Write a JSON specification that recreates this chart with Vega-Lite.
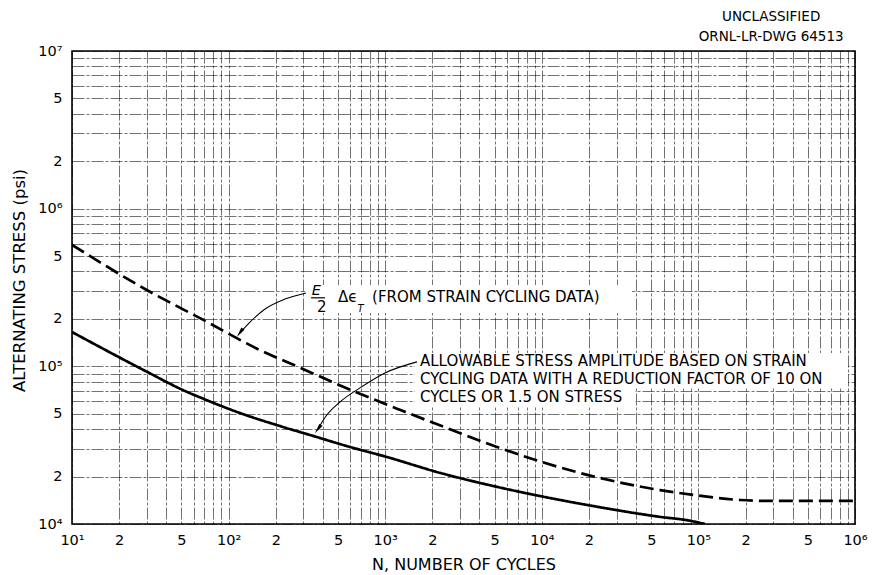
{
  "$schema": "https://vega.github.io/schema/vega-lite/v6.json",
  "width": 783,
  "height": 473,
  "autosize": {"type": "none"},
  "padding": {"left": 72, "top": 51, "right": 19, "bottom": 51},
  "background": "white",
  "config": {
    "view": {"stroke": "black", "strokeWidth": 1.6},
    "font": "DejaVu Sans"
  },
  "title": {
    "text": ["UNCLASSIFIED", "ORNL-LR-DWG 64513"],
    "anchor": "end",
    "align": "center",
    "dx": -96,
    "font": "DejaVu Sans",
    "fontSize": 13.5,
    "fontWeight": "normal",
    "color": "black",
    "lineHeight": 20,
    "offset": 0
  },
  "datasets": {
    "curves": [
      {"series": "strain", "N": 10, "S": 590000},
      {"series": "strain", "N": 30, "S": 305000},
      {"series": "strain", "N": 69, "S": 197000},
      {"series": "strain", "N": 158, "S": 127000},
      {"series": "strain", "N": 286, "S": 98000},
      {"series": "strain", "N": 641, "S": 69000},
      {"series": "strain", "N": 1241, "S": 53000},
      {"series": "strain", "N": 2483, "S": 40600},
      {"series": "strain", "N": 5176, "S": 30800},
      {"series": "strain", "N": 19500, "S": 20500},
      {"series": "strain", "N": 56900, "S": 16400},
      {"series": "strain", "N": 92500, "S": 15300},
      {"series": "strain", "N": 184500, "S": 14200},
      {"series": "strain", "N": 300000, "S": 14000},
      {"series": "strain", "N": 1000000, "S": 14000},
      {"series": "allowable", "N": 10, "S": 165000},
      {"series": "allowable", "N": 30, "S": 92500},
      {"series": "allowable", "N": 51, "S": 70800},
      {"series": "allowable", "N": 72, "S": 61200},
      {"series": "allowable", "N": 118, "S": 50600},
      {"series": "allowable", "N": 213, "S": 41800},
      {"series": "allowable", "N": 346, "S": 36200},
      {"series": "allowable", "N": 596, "S": 30800},
      {"series": "allowable", "N": 1026, "S": 26600},
      {"series": "allowable", "N": 2239, "S": 21100},
      {"series": "allowable", "N": 5176, "S": 17200},
      {"series": "allowable", "N": 19500, "S": 13200},
      {"series": "allowable", "N": 56900, "S": 11100},
      {"series": "allowable", "N": 88000, "S": 10500},
      {"series": "allowable", "N": 110000, "S": 10000}
    ],
    "blank": [
      {"N": 308, "N2": 37700, "S": 328000, "S2": 218000},
      {"N": 1549, "N2": 901000, "S": 121600, "S2": 73000},
      {"N": 1549, "N2": 39400, "S": 73000, "S2": 56000}
    ],
    "arrows": [
      {"arrow": "a", "N": 312, "S": 292000},
      {"arrow": "a", "N": 229, "S": 267000},
      {"arrow": "a", "N": 171, "S": 231000},
      {"arrow": "a", "N": 137, "S": 191000},
      {"arrow": "a", "N": 118, "S": 163000},
      {"arrow": "b", "N": 1596, "S": 106700},
      {"arrow": "b", "N": 997, "S": 90800},
      {"arrow": "b", "N": 690, "S": 73000},
      {"arrow": "b", "N": 514, "S": 59400},
      {"arrow": "b", "N": 419, "S": 48400},
      {"arrow": "b", "N": 372, "S": 40000}
    ],
    "heads": [
      {"arrow": "a", "N": 118, "S": 163000},
      {"arrow": "b", "N": 372, "S": 40000}
    ],
    "bar": [
      {"N": 336, "N2": 413, "S": 272000}
    ],
    "notes": [
      {"N": 367, "S": 238000, "text": "2"},
      {"N": 500, "S": 275000, "text": "Δϵ"},
      {"N": 824, "S": 275000, "text": "(FROM STRAIN CYCLING DATA)"},
      {"N": 1667, "S": 108100, "text": "ALLOWABLE STRESS AMPLITUDE BASED ON STRAIN"},
      {"N": 1667, "S": 83200, "text": "CYCLING DATA WITH A REDUCTION FACTOR OF 10 ON"},
      {"N": 1667, "S": 64000, "text": "CYCLES OR 1.5 ON STRESS"}
    ],
    "italic": [
      {"N": 340, "S": 300000, "text": "E"}
    ],
    "sub": [
      {"N": 665, "S": 231000, "text": "T"}
    ]
  },
  "layer": [
    {
      "data": {"name": "curves"},
      "mark": {"type": "line", "color": "black", "strokeWidth": 2.7, "interpolate": "monotone", "clip": true},
      "encoding": {
        "x": {
          "field": "N", "type": "quantitative",
          "scale": {"type": "log", "domain": [10, 1000000], "nice": false},
          "axis": {
            "values": [10,20,30,40,50,60,70,80,90,100,200,300,400,500,600,700,800,900,1000,2000,3000,4000,5000,6000,7000,8000,9000,10000,20000,30000,40000,50000,60000,70000,80000,90000,100000,200000,300000,400000,500000,600000,700000,800000,900000,1000000],
            "labelExpr": "datum.value==10?'10¹':datum.value==100?'10²':datum.value==1000?'10³':datum.value==10000?'10⁴':datum.value==100000?'10⁵':datum.value==1000000?'10⁶':indexof([20,200,2000,20000,200000],datum.value)>=0?'2':indexof([50,500,5000,50000,500000],datum.value)>=0?'5':''",
            "title": "N, NUMBER OF CYCLES",
            "grid": true, "ticks": false, "domain": false,
            "labelOverlap": false, "labelFlush": false,
            "labelPadding": 9, "labelFontSize": 14.5, "labelFont": "DejaVu Sans", "labelColor": "black",
            "titleFont": "DejaVu Sans", "titleFontSize": 16, "titleFontWeight": "normal", "titleColor": "black",
            "titleY": 32, "titleBaseline": "top",
            "gridColor": "#000000", "gridOpacity": 0.55, "gridWidth": 1, "gridDash": [12, 2, 3, 2]
          }
        },
        "y": {
          "field": "S", "type": "quantitative",
          "scale": {"type": "log", "domain": [10000, 10000000], "nice": false},
          "axis": {
            "values": [10000,20000,30000,40000,50000,60000,70000,80000,90000,100000,200000,300000,400000,500000,600000,700000,800000,900000,1000000,2000000,3000000,4000000,5000000,6000000,7000000,8000000,9000000,10000000],
            "labelExpr": "datum.value==10000?'10⁴':datum.value==100000?'10⁵':datum.value==1000000?'10⁶':datum.value==10000000?'10⁷':indexof([20000,200000,2000000],datum.value)>=0?'2':indexof([50000,500000,5000000],datum.value)>=0?'5':''",
            "title": "ALTERNATING STRESS (psi)",
            "grid": true, "ticks": false, "domain": false,
            "labelOverlap": false, "labelFlush": false,
            "labelPadding": 10, "labelFontSize": 14.5, "labelFont": "DejaVu Sans", "labelColor": "black",
            "titleFont": "DejaVu Sans", "titleFontSize": 16.5, "titleFontWeight": "normal", "titleColor": "black",
            "titleX": -45, "titleY": 229,
            "gridColor": "#000000", "gridOpacity": 0.55, "gridWidth": 1, "gridDash": [12, 2, 3, 2]
          }
        },
        "strokeDash": {
          "field": "series", "type": "nominal",
          "scale": {"domain": ["strain", "allowable"], "range": [[14, 6], [1, 0]]},
          "legend": null
        }
      }
    },
    {
      "data": {"name": "blank"},
      "mark": {"type": "rect", "color": "white", "opacity": 1},
      "encoding": {
        "x": {"field": "N", "type": "quantitative"},
        "x2": {"field": "N2"},
        "y": {"field": "S", "type": "quantitative"},
        "y2": {"field": "S2"}
      }
    },
    {
      "data": {"name": "arrows"},
      "mark": {"type": "line", "color": "black", "strokeWidth": 1.1, "interpolate": "monotone"},
      "encoding": {
        "x": {"field": "N", "type": "quantitative"},
        "y": {"field": "S", "type": "quantitative"},
        "detail": {"field": "arrow", "type": "nominal"}
      }
    },
    {
      "data": {"name": "heads"},
      "mark": {"type": "point", "shape": "M0,-1L0.38,1L-0.38,1Z", "filled": true, "color": "black", "opacity": 1, "size": 110, "angle": 216},
      "encoding": {
        "x": {"field": "N", "type": "quantitative"},
        "y": {"field": "S", "type": "quantitative"}
      }
    },
    {
      "data": {"name": "bar"},
      "mark": {"type": "rule", "color": "black", "strokeWidth": 1.2},
      "encoding": {
        "x": {"field": "N", "type": "quantitative"},
        "x2": {"field": "N2"},
        "y": {"field": "S", "type": "quantitative"}
      }
    },
    {
      "data": {"name": "notes"},
      "mark": {"type": "text", "align": "left", "baseline": "middle", "font": "DejaVu Sans", "fontSize": 15, "color": "black"},
      "encoding": {
        "x": {"field": "N", "type": "quantitative"},
        "y": {"field": "S", "type": "quantitative"},
        "text": {"field": "text"}
      }
    },
    {
      "data": {"name": "italic"},
      "mark": {"type": "text", "align": "left", "baseline": "middle", "font": "DejaVu Sans", "fontStyle": "italic", "fontSize": 14.5, "color": "black"},
      "encoding": {
        "x": {"field": "N", "type": "quantitative"},
        "y": {"field": "S", "type": "quantitative"},
        "text": {"field": "text"}
      }
    },
    {
      "data": {"name": "sub"},
      "mark": {"type": "text", "align": "left", "baseline": "middle", "font": "DejaVu Sans", "fontStyle": "italic", "fontSize": 10, "color": "black"},
      "encoding": {
        "x": {"field": "N", "type": "quantitative"},
        "y": {"field": "S", "type": "quantitative"},
        "text": {"field": "text"}
      }
    }
  ]
}
